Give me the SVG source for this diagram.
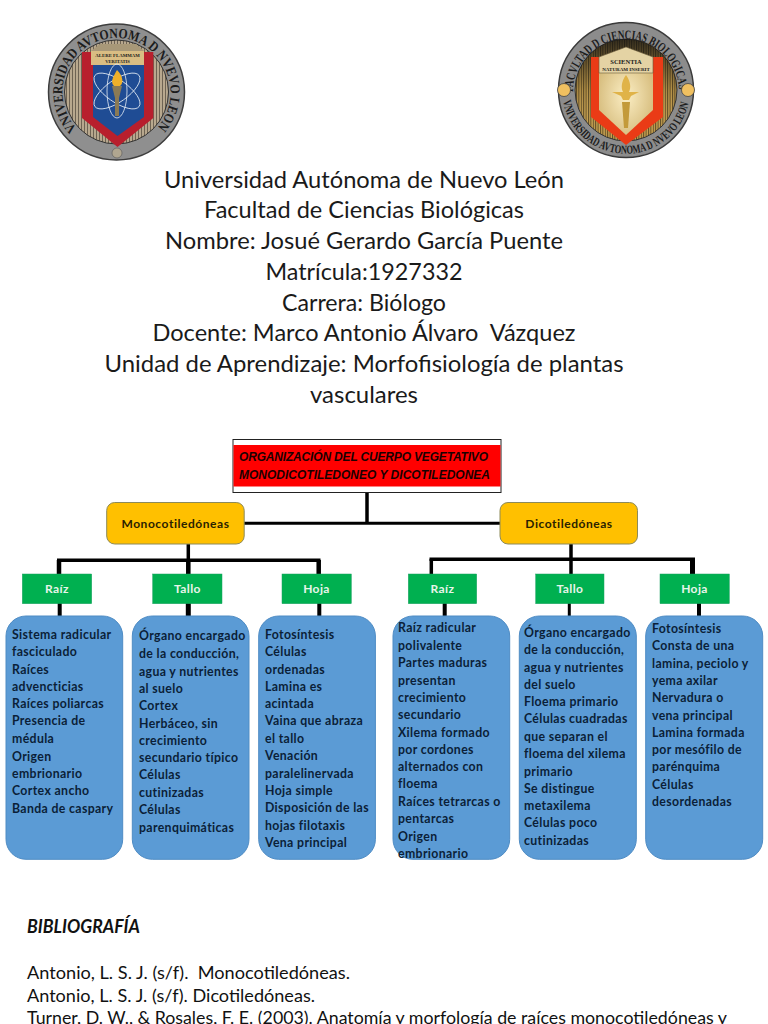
<svg xmlns="http://www.w3.org/2000/svg" width="768" height="1024" viewBox="0 0 768 1024">
<style>
text{font-family:"Lato","Open Sans","Liberation Sans",sans-serif}
.title{font-size:23.7px;fill:#1a1a1a;text-anchor:middle}
.top{font-family:"Liberation Sans",Arial,sans-serif;font-size:12px;font-weight:700;font-style:italic;fill:#1a0000}
.cat{font-size:12px;font-weight:700;text-anchor:middle;fill:#2a2200;letter-spacing:.55px}
.sub{font-size:12px;font-weight:700;text-anchor:middle;fill:#e8f5ea;letter-spacing:.4px}
.body{font-size:12.3px;font-weight:700;fill:#0b1f38;letter-spacing:.35px}
.bib{font-size:18px;fill:#111}
.ln{stroke:#000;fill:none}
.blue{fill:#5b9bd5;stroke:#4f8cc4;stroke-width:1}
.gold{fill:#ffc000;stroke:#8c8a5a;stroke-width:1}
.green{fill:#00b050;stroke:#1aa060;stroke-width:.5}
.sealtxt{font-family:"Liberation Serif",serif;font-weight:700;fill:#1c1c1c}
</style>
<defs>
<pattern id="st1" width="3" height="10" patternUnits="userSpaceOnUse"><rect width="3" height="10" fill="#b8a88e"/><rect width="1" height="10" fill="#6e6353"/></pattern>
<pattern id="st2" width="2.4" height="10" patternUnits="userSpaceOnUse"><rect width="2.4" height="10" fill="#c9a24f"/><rect width="1" height="10" fill="#5a4822"/></pattern>
<linearGradient id="fade" x1="0" y1="0" x2="0" y2="1"><stop offset="0" stop-color="#111" stop-opacity=".8"/><stop offset=".5" stop-color="#111" stop-opacity=".1"/><stop offset="1" stop-color="#fff" stop-opacity="0"/></linearGradient>
<radialGradient id="cream" cx=".5" cy=".5" r=".6"><stop offset="0" stop-color="#fbeec4"/><stop offset="1" stop-color="#d3b877"/></radialGradient>
<path id="arc1" d="M 76.900 128.700 A 54 54 0 1 1 156.100 128.700"/>
<path id="arc2top" d="M 573 92 A 53 53 0 0 1 679 92"/>
<path id="arc2bot" d="M 563 101 A 64 64 0 0 0 689 101"/>
</defs>

<g id="seal-uanl">
<circle cx="116.500" cy="92" r="68" fill="#8f8f8f" stroke="#3d3d3d" stroke-width="1.500"/>
<circle cx="116.500" cy="92" r="52" fill="url(#st1)" stroke="#333" stroke-width="1"/>
<text class="sealtxt" font-size="14"><textPath href="#arc1" textLength="248" lengthAdjust="spacingAndGlyphs">VNIVERSIDAD AVTONOMA D NVEVO LEON</textPath></text>
<path d="M82 52H153.300V118L117.500 147L82 118Z" fill="#b81f2d"/>
<path d="M93 65H144V117L117.500 136L93 117Z" fill="#1f4c94"/>
<path d="M91 51L100 44H136L144 51Z" fill="#a89878"/>
<rect x="91" y="51" width="53" height="14" fill="#d9bd83"/>
<text x="117.500" y="57" font-size="4.800" text-anchor="middle" class="sealtxt">ALERE FLAMMAM</text>
<text x="117.500" y="63" font-size="4.600" text-anchor="middle" class="sealtxt">VERITATIS</text>
<g fill="none" stroke="#e4ecf4" stroke-width=".8">
<ellipse cx="117" cy="91" rx="27" ry="11" transform="rotate(35 117 91)"/>
<ellipse cx="117" cy="91" rx="27" ry="11" transform="rotate(-35 117 91)"/>
<ellipse cx="117" cy="91" rx="27" ry="10" transform="rotate(90 117 91)"/>
</g>
<path d="M117 70C123 76 124 83 120 86H114C110 82 113 77 117 70Z" fill="#eeb02a"/>
<path d="M112 86H122L119 98V116H115V98Z" fill="#8a7a55"/>
<circle cx="117" cy="153" r="5" fill="#b0a690" stroke="#555" stroke-width=".6"/>
</g>

<g id="seal-fcb">
<circle cx="626" cy="90" r="67.500" fill="#8c8c8c" stroke="#3a3a3a" stroke-width="1.500"/>
<circle cx="626" cy="90" r="51" fill="url(#st2)" stroke="#333" stroke-width="1"/>
<circle cx="626" cy="90" r="51" fill="url(#fade)"/>
<text class="sealtxt" font-size="13"><textPath href="#arc2top" textLength="164" lengthAdjust="spacingAndGlyphs">FACVLTAD D CIENCIAS BIOLOGICAS</textPath></text>
<text class="sealtxt" font-size="12"><textPath href="#arc2bot" textLength="176" lengthAdjust="spacingAndGlyphs">VNIVERSIDAD AVTONOMA D NVEVO LEON</textPath></text>
<circle cx="564" cy="90" r="6.500" fill="#f0c060" stroke="#444" stroke-width=".8"/>
<circle cx="688" cy="90" r="6.500" fill="#f0c060" stroke="#444" stroke-width=".8"/>
<path d="M591 57H663V117L626 145L591 117Z" fill="#ea3b16"/>
<path d="M599 57H653V110L626 135L599 110Z" fill="url(#cream)"/>
<path d="M599 57L626 47L653 57V73H599Z" fill="#e4d3a4" stroke="#6a5a3a" stroke-width=".6"/>
<text x="626" y="63.500" font-size="6.500" text-anchor="middle" class="sealtxt">SCIENTIA</text>
<text x="626" y="71" font-size="5" text-anchor="middle" class="sealtxt">NATURAM INSERIT</text>
<path d="M626 75C631 82 631 88 629 92H639L631 96L629 100H623L621 96L612 92H623C621 88 621 82 626 75Z" fill="#e0b348"/>
<path d="M622 102H630L628 128H624Z" fill="#c39a3a"/>
</g>

<g id="heading">
<text class="title" x="364" y="187.500" textLength="400" lengthAdjust="spacingAndGlyphs">Universidad Autónoma de Nuevo León</text>
<text class="title" x="364" y="218" textLength="320" lengthAdjust="spacingAndGlyphs">Facultad de Ciencias Biológicas</text>
<text class="title" x="364" y="249" textLength="398" lengthAdjust="spacingAndGlyphs">Nombre: Josué Gerardo García Puente</text>
<text class="title" x="364" y="279.500" textLength="197" lengthAdjust="spacingAndGlyphs">Matrícula:1927332</text>
<text class="title" x="364" y="310.500" textLength="164" lengthAdjust="spacingAndGlyphs">Carrera: Biólogo</text>
<text class="title" x="364" y="341" xml:space="preserve" textLength="423" lengthAdjust="spacingAndGlyphs">Docente: Marco Antonio Álvaro  Vázquez</text>
<text class="title" x="364" y="372" textLength="519" lengthAdjust="spacingAndGlyphs">Unidad de Aprendizaje: Morfofisiología de plantas</text>
<text class="title" x="364" y="403" textLength="108" lengthAdjust="spacingAndGlyphs">vasculares</text>
</g>

<g id="connectors">
<path class="ln" stroke-width="3.500" d="M367 492V523"/>
<path class="ln" stroke-width="3" d="M244 523.300H500"/>
<path class="ln" stroke-width="3.500" d="M188.300 544V575"/>
<path class="ln" stroke-width="3.500" d="M57 560.300H320.500"/>
<path class="ln" stroke-width="4.500" d="M59 560V575M188.300 560V575M318.700 560V575"/>
<path class="ln" stroke-width="4" d="M59.700 603V617M319.300 603V617"/>
<path class="ln" stroke-width="5" d="M188.300 599V617"/>
<path class="ln" stroke-width="3.500" d="M571 544V575"/>
<path class="ln" stroke-width="3.500" d="M429.500 559.300H695"/>
<path class="ln" stroke-width="3.500" d="M431.300 559V575"/>
<path class="ln" stroke-width="5" d="M692.500 559V575"/>
<path class="ln" stroke-width="4" d="M444.700 603V617M699 603V617"/>
<path class="ln" stroke-width="3" d="M569.300 603V617"/>
</g>

<g id="root-node">
<rect x="233" y="439.500" width="268" height="53" fill="#fff" stroke="#222" stroke-width="1"/>
<rect x="233.500" y="445" width="267" height="41.500" fill="#ff0000"/>
<text class="top" x="239" y="461" textLength="249">ORGANIZACIÓN DEL CUERPO VEGETATIVO</text>
<text class="top" x="239" y="478.500" textLength="251">MONODICOTILEDONEO Y DICOTILEDONEA</text>
</g>

<g id="mono"><rect class="gold" x="106.700" y="502.500" width="137.500" height="41.500" rx="8"/><text class="cat" x="175.500" y="528">Monocotiledóneas</text></g>
<g id="dico"><rect class="gold" x="500" y="502.500" width="137.500" height="41.500" rx="8"/><text class="cat" x="569" y="528">Dicotiledóneas</text></g>

<g id="m-raiz"><rect class="green" x="22.300" y="574" width="69.400" height="29.700"/><text class="sub" x="57" y="593">Raíz</text></g>
<g id="m-tallo"><rect class="green" x="152.700" y="574" width="69.300" height="29.700"/><text class="sub" x="187.500" y="593">Tallo</text></g>
<g id="m-hoja"><rect class="green" x="282" y="574" width="69.300" height="29.700"/><text class="sub" x="316.500" y="593">Hoja</text></g>
<g id="d-raiz"><rect class="green" x="408.300" y="574" width="68.400" height="29.700"/><text class="sub" x="442.500" y="593">Raíz</text></g>
<g id="d-tallo"><rect class="green" x="535.700" y="574" width="68.300" height="29.700"/><text class="sub" x="570" y="593">Tallo</text></g>
<g id="d-hoja"><rect class="green" x="660" y="574" width="69.300" height="29.700"/><text class="sub" x="694.500" y="593">Hoja</text></g>

<g id="m-raiz-list"><rect class="blue" x="6" y="616" width="116.700" height="243.300" rx="20"/>
<text class="body"><tspan x="12" y="639">Sistema radicular</tspan><tspan x="12" y="656.200">fasciculado</tspan><tspan x="12" y="673.500">Raíces</tspan><tspan x="12" y="690.700">advencticias</tspan><tspan x="12" y="708">Raíces poliarcas</tspan><tspan x="12" y="725.200">Presencia de</tspan><tspan x="12" y="742.500">médula</tspan><tspan x="12" y="760.700">Origen</tspan><tspan x="12" y="778">embrionario</tspan><tspan x="12" y="795.200">Cortex ancho</tspan><tspan x="12" y="812.500">Banda de caspary</tspan></text></g>

<g id="m-tallo-list"><rect class="blue" x="132.300" y="616" width="116.700" height="243.300" rx="20"/>
<text class="body"><tspan x="139" y="640">Órgano encargado</tspan><tspan x="139" y="658">de la conducción,</tspan><tspan x="139" y="675.500">agua y nutrientes</tspan><tspan x="139" y="692.500">al suelo</tspan><tspan x="139" y="710">Cortex</tspan><tspan x="139" y="727.500">Herbáceo, sin</tspan><tspan x="139" y="744.500">crecimiento</tspan><tspan x="139" y="762">secundario típico</tspan><tspan x="139" y="779">Células</tspan><tspan x="139" y="796.500">cutinizadas</tspan><tspan x="139" y="813.500">Células</tspan><tspan x="139" y="831.500">parenquimáticas</tspan></text></g>

<g id="m-hoja-list"><rect class="blue" x="258.700" y="616" width="116.700" height="243.300" rx="20"/>
<text class="body"><tspan x="265" y="639">Fotosíntesis</tspan><tspan x="265" y="656.200">Células</tspan><tspan x="265" y="673.500">ordenadas</tspan><tspan x="265" y="690.700">Lamina es</tspan><tspan x="265" y="708">acintada</tspan><tspan x="265" y="725.200">Vaina que abraza</tspan><tspan x="265" y="742.500">el tallo</tspan><tspan x="265" y="760">Venación</tspan><tspan x="265" y="777.500">paralelinervada</tspan><tspan x="265" y="795">Hoja simple</tspan><tspan x="265" y="812">Disposición de las</tspan><tspan x="265" y="829.500">hojas filotaxis</tspan><tspan x="265" y="846.500">Vena principal</tspan></text></g>

<g id="d-raiz-list"><rect class="blue" x="393" y="616" width="116.700" height="243.300" rx="20"/>
<text class="body"><tspan x="398" y="632">Raíz radicular</tspan><tspan x="398" y="649.500">polivalente</tspan><tspan x="398" y="667">Partes maduras</tspan><tspan x="398" y="684.500">presentan</tspan><tspan x="398" y="702">crecimiento</tspan><tspan x="398" y="719">secundario</tspan><tspan x="398" y="736.500">Xilema formado</tspan><tspan x="398" y="753.500">por cordones</tspan><tspan x="398" y="771">alternados con</tspan><tspan x="398" y="788">floema</tspan><tspan x="398" y="805.500">Raíces tetrarcas o</tspan><tspan x="398" y="822.500">pentarcas</tspan><tspan x="398" y="840.500">Origen</tspan><tspan x="398" y="858">embrionario</tspan></text></g>

<g id="d-tallo-list"><rect class="blue" x="519.300" y="616" width="117" height="243.300" rx="20"/>
<text class="body"><tspan x="524" y="637">Órgano encargado</tspan><tspan x="524" y="654">de la conducción,</tspan><tspan x="524" y="671.500">agua y nutrientes</tspan><tspan x="524" y="688.500">del suelo</tspan><tspan x="524" y="706">Floema primario</tspan><tspan x="524" y="723">Células cuadradas</tspan><tspan x="524" y="741">que separan el</tspan><tspan x="524" y="758">floema del xilema</tspan><tspan x="524" y="775.500">primario</tspan><tspan x="524" y="792.500">Se distingue</tspan><tspan x="524" y="810">metaxilema</tspan><tspan x="524" y="827">Células poco</tspan><tspan x="524" y="844.500">cutinizadas</tspan></text></g>

<g id="d-hoja-list"><rect class="blue" x="645.700" y="616" width="117" height="243.300" rx="20"/>
<text class="body"><tspan x="652" y="633">Fotosíntesis</tspan><tspan x="652" y="650">Consta de una</tspan><tspan x="652" y="667.500">lamina, peciolo y</tspan><tspan x="652" y="684.500">yema axilar</tspan><tspan x="652" y="702">Nervadura o</tspan><tspan x="652" y="719.500">vena principal</tspan><tspan x="652" y="736.500">Lamina formada</tspan><tspan x="652" y="754">por mesófilo de</tspan><tspan x="652" y="771">parénquima</tspan><tspan x="652" y="788.500">Células</tspan><tspan x="652" y="805.500">desordenadas</tspan></text></g>

<g id="bibliography">
<text class="bib" x="27" y="933" font-weight="700" font-style="italic" textLength="113" lengthAdjust="spacingAndGlyphs">BIBLIOGRAFÍA</text>
<text class="bib" x="27" y="979" xml:space="preserve" textLength="323" lengthAdjust="spacingAndGlyphs">Antonio, L. S. J. (s/f).  Monocotiledóneas.</text>
<text class="bib" x="27" y="1002" textLength="288" lengthAdjust="spacingAndGlyphs">Antonio, L. S. J. (s/f). Dicotiledóneas.</text>
<text class="bib" x="27" y="1024" textLength="700" lengthAdjust="spacingAndGlyphs">Turner, D. W., &amp; Rosales, F. E. (2003). Anatomía y morfología de raíces monocotiledóneas y</text>
</g>
</svg>
